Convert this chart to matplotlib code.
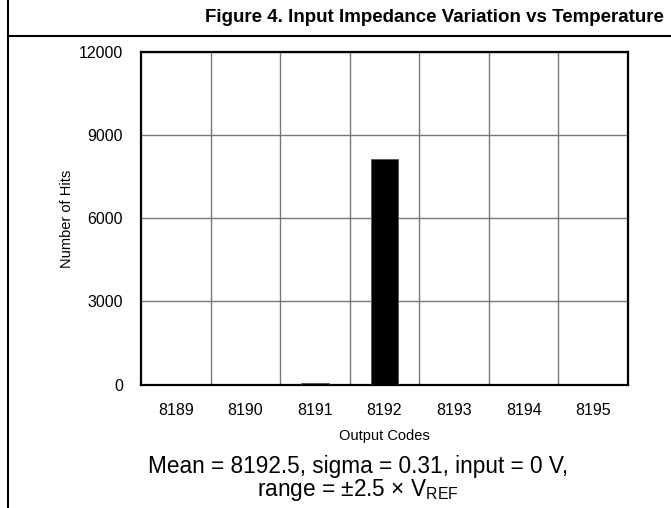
import matplotlib
matplotlib.use("Agg")
import matplotlib.pyplot as plt
from matplotlib.lines import Line2D

codes = ["8189", "8190", "8191", "8192", "8193", "8194", "8195"]
hits = [0, 0, 42, 8150, 0, 0, 0]
y_ticks = [0, 3000, 6000, 9000, 12000]

plt.rcParams["font.family"] = ["Liberation Sans", "DejaVu Sans"]
plt.rcParams["mathtext.fontset"] = "custom"
plt.rcParams["mathtext.rm"] = "Liberation Sans"

fig = plt.figure(figsize=(6.71, 5.08), dpi=100)
ax = fig.add_axes([0.2101, 0.2431, 0.7258, 0.6536])

x = list(range(len(codes)))
ax.bar(x, hits, width=0.4, color="black", edgecolor="#555555", linewidth=0.6, zorder=3)

ax.set_xlim(-0.5, len(codes) - 0.5)
ax.set_ylim(0, 12000)
ax.set_yticks(y_ticks)
ax.set_xticks(x)
ax.set_xticklabels(codes)
# grid lines sit on category boundaries
ax.set_xticks([i + 0.5 for i in x[:-1]], minor=True)
ax.grid(True, which="minor", axis="x", color="#777777", linewidth=1.0, zorder=1)
ax.grid(True, which="major", axis="y", color="#777777", linewidth=1.0, zorder=1)
ax.tick_params(which="both", length=0)
ax.tick_params(axis="x", pad=13, labelsize=11.5)
ax.tick_params(axis="y", pad=13, labelsize=11.5)

for spine in ax.spines.values():
    spine.set_color("black")
    spine.set_linewidth(1.6)

ax.set_ylabel("Number of Hits", fontsize=10.5)
ax.yaxis.set_label_coords(-0.137, 0.5)
ax.set_xlabel("Output Codes", fontsize=10.5)
ax.xaxis.set_label_coords(0.5, -0.135)

fig.text(0.647, 1 - 18 / 508, "Figure 4. Input Impedance Variation vs Temperature",
         ha="center", va="center", fontsize=13.5, fontweight="bold")
fig.text(358 / 671, 1 - 467 / 508, "Mean = 8192.5, sigma = 0.31, input = 0 V,",
         ha="center", va="center", fontsize=16.3)
fig.text(358 / 671, 1 - 490 / 508, r"range = ±2.5 × V$_{\mathregular{REF}}$",
         ha="center", va="center", fontsize=16.3)

# outer frame: left edge and title separator
fig.add_artist(Line2D([8 / 671, 8 / 671], [0, 1], transform=fig.transFigure,
                      color="black", linewidth=1.5))
fig.add_artist(Line2D([8 / 671, 1], [1 - 35.5 / 508, 1 - 35.5 / 508],
                      transform=fig.transFigure, color="black", linewidth=1.5))

fig.savefig("out.png", dpi=100)
